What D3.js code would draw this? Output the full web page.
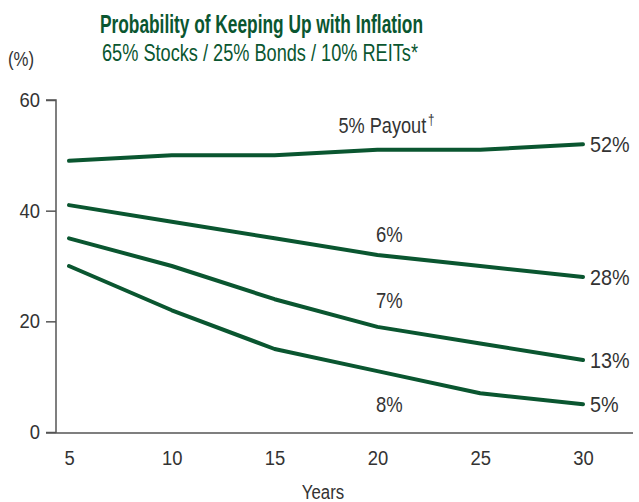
<!DOCTYPE html>
<html lang="en">
<head>
    <meta charset="UTF-8">
    <title>Probability of Keeping Up with Inflation</title>
    <script src="https://cdn.jsdelivr.net/npm/d3@7"></script>
    <style>
      body { margin: 0; background: #fff; }
      text { font-family: "Liberation Sans", Arial, sans-serif; }
    </style>
</head>
<body>
    <script>
      const years = [5, 10, 15, 20, 25, 30];
      const payout5 = [49, 50, 50, 51, 51, 52];
      const payout6 = [41, 38, 35, 32, 30, 28];
      const payout7 = [35, 30, 24, 19, 16, 13];
      const payout8 = [30, 22, 15, 11, 7, 5];
      const yTicks = [0, 20, 40, 60];

      const series = [
        { name: "5% Payout", mark: "\u2020", values: payout5, dx: -51, dy: -17, anchor: "start" },
        { name: "6%", mark: "", values: payout6, dx: 0, dy: -13, anchor: "middle" },
        { name: "7%", mark: "", values: payout7, dx: 0, dy: -19, anchor: "middle" },
        { name: "8%", mark: "", values: payout8, dx: 0, dy: 41, anchor: "middle" }
      ];

      const w = 639;
      const h = 502;
      const green = "#0a5630";

      // condensed look: squeeze text horizontally
      function squeeze(sel, factor) {
        sel.each(function () {
          const len = this.getComputedTextLength();
          d3.select(this)
            .attr("textLength", len * factor)
            .attr("lengthAdjust", "spacingAndGlyphs");
        });
      }

      const xScale = d3.scaleLinear()
                       .domain([5, 30])
                       .range([69, 583]);

      const yScale = d3.scaleLinear()
                       .domain([0, 60])
                       .range([432, 100]);

      const svg = d3.select("body")
                    .append("svg")
                    .attr("width", w)
                    .attr("height", h);

      // titles
      svg.append("text")
         .attr("x", 100).attr("y", 33)
         .attr("font-size", 26)
         .attr("font-weight", "bold")
         .attr("fill", green)
         .attr("textLength", 323)
         .attr("lengthAdjust", "spacingAndGlyphs")
         .text("Probability of Keeping Up with Inflation");

      svg.append("text")
         .attr("x", 102).attr("y", 61)
         .attr("font-size", 24)
         .attr("fill", green)
         .attr("textLength", 316)
         .attr("lengthAdjust", "spacingAndGlyphs")
         .text("65% Stocks / 25% Bonds / 10% REITs*");

      svg.append("text")
         .attr("class", "word")
         .attr("x", 8).attr("y", 66)
         .attr("font-size", 20)
         .attr("fill", "#333")
         .text("(%)");

      // y axis
      const yAxis = d3.axisLeft(yScale)
                      .tickValues(yTicks)
                      .tickSize(10)
                      .tickPadding(6);

      const gy = svg.append("g")
         .attr("transform", "translate(56,0)")
         .call(yAxis);
      gy.select(".domain").attr("d", `M-10,${yScale(60)}H0V${yScale(0) + 1}`);

      // x axis
      const xAxis = d3.axisBottom(xScale)
                      .tickValues(years)
                      .tickSize(0)
                      .tickPadding(18);

      const gx = svg.append("g")
         .attr("transform", `translate(0,${yScale(0) + 1})`)
         .call(xAxis);
      gx.select(".domain").attr("d", "M46,0H633");

      svg.selectAll(".domain, .tick line")
         .attr("stroke", "#555")
         .attr("stroke-width", 1.5);
      svg.selectAll(".tick text")
         .attr("font-size", 20)
         .attr("fill", "#333")
         .style("font-family", "\"Liberation Sans\", Arial, sans-serif");

      svg.append("text")
         .attr("class", "word")
         .attr("x", 323).attr("y", 499)
         .attr("text-anchor", "middle")
         .attr("font-size", 20)
         .attr("fill", "#333")
         .text("Years");

      // lines
      const line = d3.line()
                     .x((d, i) => xScale(years[i]))
                     .y((d) => yScale(d));

      svg.selectAll(".series")
         .data(series)
         .enter()
         .append("path")
         .attr("class", "series")
         .attr("d", (d) => line(d.values))
         .attr("fill", "none")
         .attr("stroke", green)
         .attr("stroke-width", 4)
         .attr("stroke-linecap", "round")
         .attr("stroke-linejoin", "round");

      // inline labels
      const lbl = svg.selectAll(".lbl")
         .data(series)
         .enter()
         .append("text")
         .attr("class", "lbl word")
         .attr("x", (d) => xScale(20) + 12 + d.dx)
         .attr("y", (d) => yScale(d.values[3]) + d.dy)
         .attr("text-anchor", (d) => d.anchor)
         .attr("font-size", 22)
         .attr("fill", "#333");
      lbl.append("tspan").text((d) => d.name);
      lbl.filter((d) => d.mark)
         .append("tspan")
         .attr("font-size", 14)
         .attr("dy", -8)
         .attr("dx", 2)
         .text((d) => d.mark);

      // end labels
      svg.selectAll(".endlbl")
         .data(series)
         .enter()
         .append("text")
         .attr("class", "endlbl")
         .attr("x", xScale(30) + 7)
         .attr("y", (d) => yScale(d.values[5]) + 8)
         .attr("font-size", 22)
         .attr("fill", "#333")
         .text((d) => d.values[5] + "%");

      squeeze(svg.selectAll(".word"), 0.84);
      squeeze(svg.selectAll(".endlbl"), 0.9);
      squeeze(svg.selectAll(".tick text"), 0.92);
    </script>
</body>
</html>
